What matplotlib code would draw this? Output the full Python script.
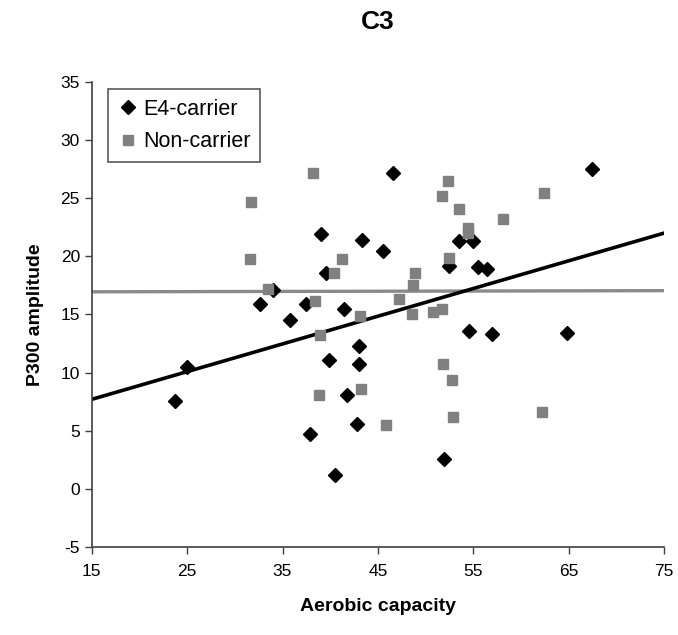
import matplotlib.pyplot as plt
import matplotlib.ticker as ticker

plt.rcParams['font.family'] = ['Liberation Sans', 'DejaVu Sans']
plt.rcParams['axes.unicode_minus'] = False

# E4-carrier (aerobic capacity, P300 amplitude)
e4_x = [23.7, 25.0, 32.6, 34.0, 35.8, 37.5, 37.9, 39.0, 39.6, 39.9,
        40.5, 41.4, 41.8, 42.8, 43.0, 43.0, 43.3, 45.5, 46.6, 51.9,
        52.5, 53.5, 54.6, 55.0, 55.5, 56.4, 57.0, 64.8, 67.5]
e4_y = [7.6, 10.5, 15.9, 17.1, 14.5, 15.9, 4.7, 21.9, 18.6, 11.1,
        1.2, 15.5, 8.1, 5.6, 12.3, 10.75, 21.4, 20.5, 27.2, 2.6,
        19.2, 21.3, 13.6, 21.3, 19.1, 18.9, 13.3, 13.45, 27.5]

# Non-carrier
non_x = [31.7, 31.6, 33.5, 38.2, 38.4, 38.9, 38.8, 40.4, 41.2, 43.1,
         43.2, 45.9, 47.2, 48.6, 48.7, 48.9, 50.8, 51.7, 51.7, 51.8,
         52.3, 52.5, 52.8, 52.9, 53.5, 54.4, 54.5, 58.1, 62.2, 62.4]
non_y = [24.7, 19.75, 17.2, 27.2, 16.2, 13.2, 8.05, 18.6, 19.75, 14.9,
         8.6, 5.5, 16.3, 15.0, 17.5, 18.55, 15.25, 15.45, 25.2, 10.7,
         26.5, 19.9, 9.4, 6.2, 24.1, 22.45, 22.0, 23.25, 6.6, 25.45]

# linear trendlines (ends at x = 15 and 75)
trend_x = [15, 75]
e4_trend = [7.7, 22.0]
non_trend = [16.95, 17.05]

x_ticks = [15, 25, 35, 45, 55, 65, 75]

fig = plt.figure(figsize=(6.78, 6.35), dpi=100)
ax = fig.add_axes([0.1353, 0.1386, 0.8441, 0.7323])

ax.plot(trend_x, non_trend, color='#8a8a8a', lw=2.4, zorder=2)
ax.plot(trend_x, e4_trend, color='black', lw=2.6, zorder=2)
ax.plot(e4_x, e4_y, 'D', color='black', ms=7, ls='none', label='E4-carrier', zorder=3)
ax.plot(non_x, non_y, 's', color='#808080', ms=6.5, ls='none', label='Non-carrier', zorder=3)

ax.set_xlim(15, 75)
ax.set_ylim(-5, 35)
ax.set_xticks(x_ticks)
ax.yaxis.set_major_locator(ticker.MultipleLocator(5))

for side in ['top', 'right']:
    ax.spines[side].set_visible(False)
for side in ['left', 'bottom']:
    ax.spines[side].set_color('#404040')
    ax.spines[side].set_linewidth(1.2)
ax.tick_params(direction='out', length=5, width=1, color='#404040', labelsize=12.5)
ax.tick_params(axis='x', pad=7)

ax.set_xlabel('Aerobic capacity', fontsize=14, fontweight='bold', labelpad=14)
ax.set_ylabel('P300 amplitude', fontsize=14, fontweight='bold', labelpad=12)
fig.text(0.5575, 0.965, 'C3', ha='center', va='center', fontsize=19, fontweight='bold')

leg = ax.legend(loc='upper left', bbox_to_anchor=(0.028, 0.985), fontsize=15.5,
                frameon=True, fancybox=False, handletextpad=0.2, handlelength=1.0,
                borderpad=0.45, labelspacing=0.55, borderaxespad=0)
leg.get_frame().set_edgecolor('#303030')
leg.get_frame().set_linewidth(1.2)

fig.savefig('out.png', dpi=100)
